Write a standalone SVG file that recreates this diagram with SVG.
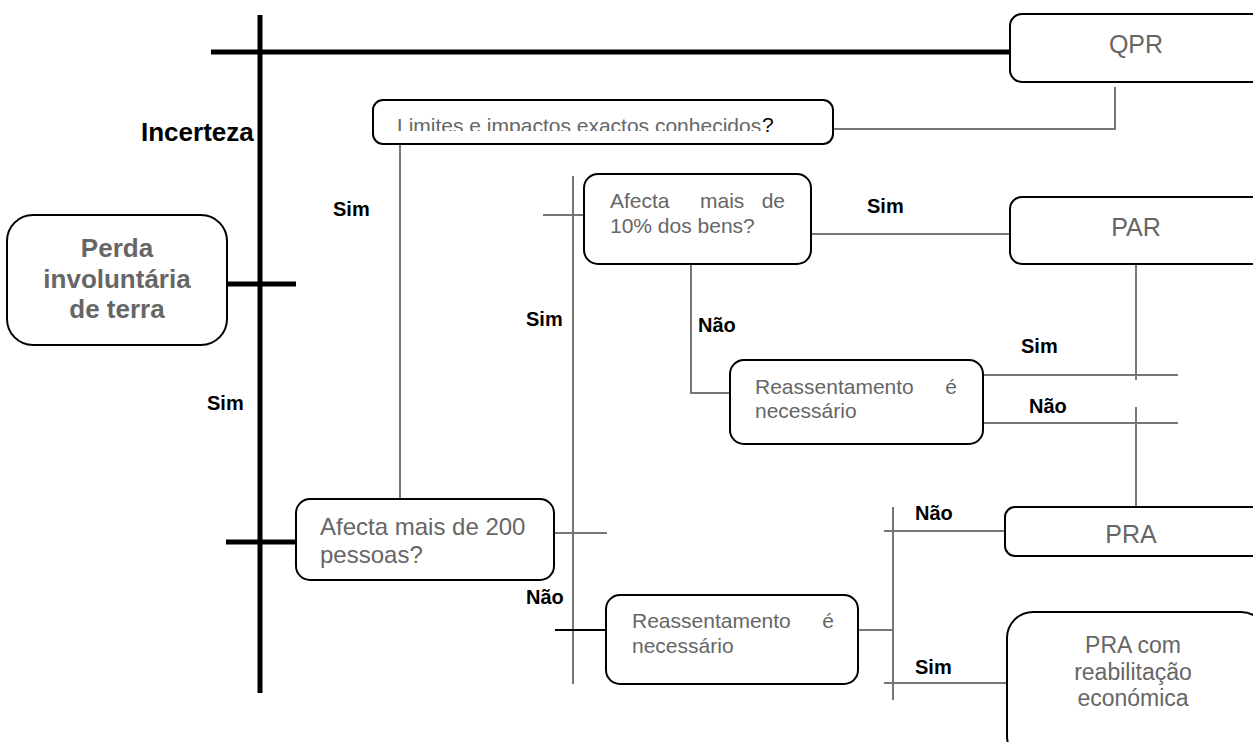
<svg xmlns="http://www.w3.org/2000/svg" width="1253" height="742" viewBox="0 0 1253 742">
<style>
.box{fill:#fff;stroke:#000;stroke-width:2}
.t{font-family:"Liberation Sans",Arial,sans-serif;fill:#666}
.lbl{font-family:"Liberation Sans",Arial,sans-serif;font-weight:bold;font-size:20px;fill:#000}
.thick{stroke:#000;stroke-width:5;fill:none}
.thin{stroke:#777;stroke-width:2;fill:none}
</style>
<defs>
<clipPath id="clipLim"><rect x="373" y="100" width="460" height="31"/></clipPath>
</defs>
<rect width="1253" height="742" fill="#fff"/>
<g id="connectors">
<line class="thick" x1="260" y1="15" x2="260" y2="693"/>
<line class="thick" x1="211" y1="52" x2="1010" y2="52"/>
<line class="thick" x1="227" y1="284" x2="296" y2="284"/>
<line class="thick" x1="226" y1="542" x2="296" y2="542"/>
<polyline class="thin" points="1115,87 1115,129 833,129"/>
<line class="thin" x1="400" y1="144" x2="400" y2="498"/>
<line class="thin" x1="573" y1="176" x2="573" y2="684"/>
<line class="thin" x1="543" y1="215" x2="584" y2="215"/>
<line class="thin" x1="554" y1="533" x2="607" y2="533"/>
<line class="thin" x1="811" y1="234" x2="1010" y2="234"/>
<polyline class="thin" points="691,264 691,393 730,393"/>
<line class="thin" x1="1136" y1="264" x2="1136" y2="380"/>
<line class="thin" x1="1136" y1="407" x2="1136" y2="507"/>
<line class="thin" x1="983" y1="375" x2="1178" y2="375"/>
<line class="thin" x1="983" y1="423" x2="1178" y2="423"/>
<line stroke="#000" stroke-width="2" x1="555" y1="630" x2="606" y2="630"/>
<line class="thin" x1="858" y1="630" x2="893" y2="630"/>
<line class="thin" x1="893" y1="507" x2="893" y2="700"/>
<line class="thin" x1="884" y1="531" x2="1005" y2="531"/>
<line class="thin" x1="884" y1="683" x2="1007" y2="683"/>
</g>
<g id="labels">
<text class="lbl" x="141" y="141" style="font-size:26px">Incerteza</text>
<text class="lbl" x="333" y="216">Sim</text>
<text class="lbl" x="207" y="410">Sim</text>
<text class="lbl" x="526" y="326">Sim</text>
<text class="lbl" x="698" y="332">Não</text>
<text class="lbl" x="867" y="213">Sim</text>
<text class="lbl" x="1021" y="353">Sim</text>
<text class="lbl" x="1029" y="413">Não</text>
<text class="lbl" x="526" y="604">Não</text>
<text class="lbl" x="915" y="520">Não</text>
<text class="lbl" x="915" y="674">Sim</text>
</g>
<g id="qpr">
<rect class="box" x="1010" y="14" width="260" height="68" rx="12"/>
<text class="t" x="1136" y="53" font-size="25" text-anchor="middle">QPR</text>
</g>
<g id="limites">
<rect class="box" x="373" y="100" width="460" height="44" rx="10"/>
<text class="t" x="397" y="133" font-size="21" clip-path="url(#clipLim)">Limites e impactos exactos conhecidos</text>
<text x="762" y="132" font-size="21" fill="#000" font-family="Liberation Sans, Arial, sans-serif">?</text>
</g>
<g id="perda">
<rect class="box" x="7" y="215" width="220" height="130" rx="26"/>
<text class="t" font-size="26" font-weight="bold" text-anchor="middle"><tspan x="117" y="257">Perda</tspan><tspan x="117" y="288">involuntária</tspan><tspan x="117" y="318">de terra</tspan></text>
</g>
<g id="afecta200">
<rect class="box" x="296" y="499" width="258" height="81" rx="14"/>
<text class="t" font-size="24"><tspan x="320" y="535">Afecta mais de 200</tspan><tspan x="320" y="563">pessoas?</tspan></text>
</g>
<g id="afecta10">
<rect class="box" x="584" y="174" width="227" height="90" rx="14"/>
<text class="t" font-size="21"><tspan x="610" y="208">Afecta</tspan><tspan x="700" y="208">mais</tspan><tspan x="785" y="208" text-anchor="end">de</tspan><tspan x="610" y="233">10% dos bens?</tspan></text>
</g>
<g id="par">
<rect class="box" x="1010" y="197" width="260" height="67" rx="12"/>
<text class="t" x="1136" y="236" font-size="25" text-anchor="middle">PAR</text>
</g>
<g id="reass1">
<rect class="box" x="730" y="360" width="253" height="84" rx="14"/>
<text class="t" font-size="21"><tspan x="755" y="394">Reassentamento</tspan><tspan x="957" y="394" text-anchor="end">é</tspan><tspan x="755" y="418">necessário</tspan></text>
</g>
<g id="reass2">
<rect class="box" x="606" y="595" width="252" height="89" rx="14"/>
<text class="t" font-size="21"><tspan x="632" y="628">Reassentamento</tspan><tspan x="834" y="628" text-anchor="end">é</tspan><tspan x="632" y="653">necessário</tspan></text>
</g>
<g id="pra">
<rect class="box" x="1005" y="507" width="260" height="49" rx="10"/>
<text class="t" x="1131" y="543" font-size="25" text-anchor="middle">PRA</text>
</g>
<g id="pracom">
<rect class="box" x="1007" y="612" width="260" height="150" rx="26"/>
<text class="t" font-size="23" text-anchor="middle"><tspan x="1133" y="653">PRA com</tspan><tspan x="1133" y="680">reabilitação</tspan><tspan x="1133" y="706">económica</tspan></text>
</g>
</svg>
